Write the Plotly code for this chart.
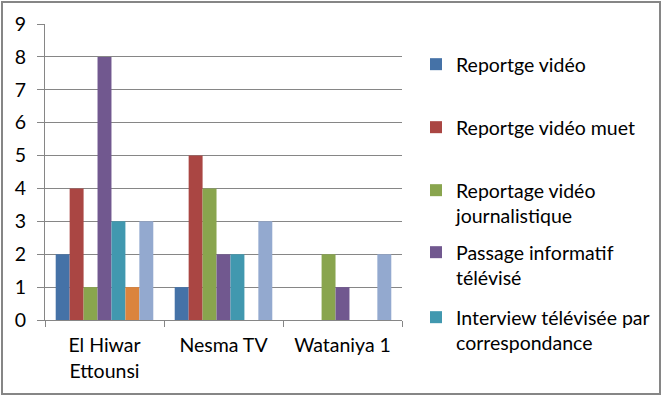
import plotly.graph_objects as go

categories = ["El Hiwar<br>Ettounsi", "Nesma TV", "Wataniya 1"]
series_names = [
    "Reportge vidéo",
    "Reportge vidéo muet",
    "Reportage vidéo<br>journalistique",
    "Passage informatif<br>télévisé",
    "Interview télévisée par<br>correspondance",
    "Série 6",
    "Série 7",
]
s1 = [2, 1, 0]
s2 = [4, 5, 0]
s3 = [1, 4, 2]
s4 = [8, 2, 1]
s5 = [3, 2, 0]
s6 = [1, 0, 0]
s7 = [3, 3, 2]
values = [s1, s2, s3, s4, s5, s6, s7]
colors = ["#4572A7", "#AA4643", "#89A54E", "#71588F", "#4198AF", "#DB843D", "#93A9CF"]
y_ticks = [0, 1, 2, 3, 4, 5, 6, 7, 8, 9]

FONT = "Lato"
FS = 19.5
GREY = "#868686"

W, H = 663, 398
L, R, T, B = 45, 402, 24, 320
ph = B - T
pw = R - L

fig = go.Figure()
legend_first_line_px = [62, 125, 188, 250, 315]
for i, (name, vals, col) in enumerate(zip(series_names, values, colors)):
    kw = {}
    if i < 5:
        kw["legend"] = "legend" if i == 0 else f"legend{i+1}"
        kw["showlegend"] = True
    else:
        kw["showlegend"] = False
    fig.add_trace(go.Bar(x=categories, y=vals, name=name,
                         marker=dict(color=col, line=dict(width=0)), **kw))

layout_legends = {}
for i, py in enumerate(legend_first_line_px):
    key = "legend" if i == 0 else f"legend{i+1}"
    layout_legends[key] = dict(
        x=(416 - L) / pw, xanchor="left",
        y=(B - (py - 17)) / ph, yanchor="top",
        bgcolor="rgba(0,0,0,0)", borderwidth=0,
        font=dict(family=FONT, size=FS, color="#000000"),
        valign="top", itemclick=False, itemdoubleclick=False,
    )

fig.update_layout(
    width=W, height=H,
    margin=dict(l=L, r=W - R, t=T, b=H - B, pad=0, autoexpand=False),
    paper_bgcolor="white", plot_bgcolor="white",
    barmode="group", bargap=0.18, bargroupgap=0,
    font=dict(family=FONT, size=FS, color="#000000"),
    xaxis=dict(type="category", categoryorder="array", categoryarray=categories,
               tickson="boundaries", ticks="outside", ticklen=6, tickcolor=GREY,
               showline=True, linecolor=GREY, linewidth=1, showgrid=False,
               tickfont=dict(family=FONT, size=FS, color="#000000"),
               ticklabelstandoff=8),
    yaxis=dict(range=[0, 9], tickvals=y_ticks, showgrid=True, gridcolor=GREY, gridwidth=1,
               zeroline=False, showline=True, linecolor=GREY, linewidth=1,
               ticks="outside", ticklen=7, tickcolor=GREY,
               tickfont=dict(family=FONT, size=FS, color="#000000"),
               ticklabelstandoff=7),
    **layout_legends,
)

# outer chart border
fig.add_shape(type="rect", xref="paper", yref="paper",
              x0=(2 - L) / pw, x1=(660 - L) / pw,
              y0=(B - 394) / ph, y1=(B - 2) / ph,
              line=dict(color=GREY, width=2), fillcolor="rgba(0,0,0,0)", layer="above")

fig.write_html("out.html", config={"displayModeBar": False},
               post_script="document.body.style.margin='0';")
